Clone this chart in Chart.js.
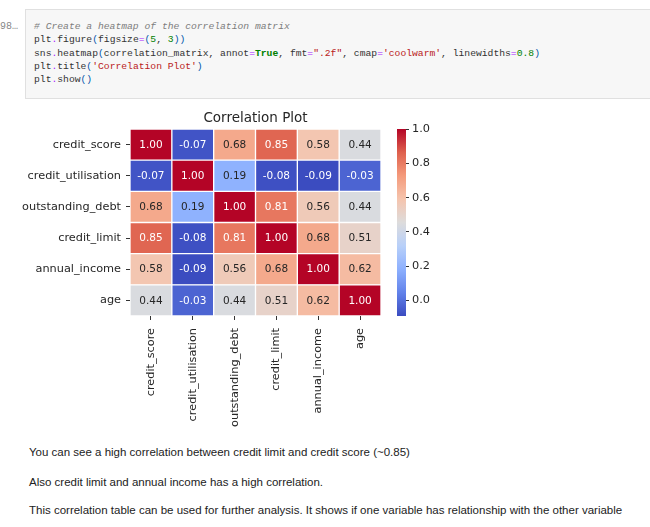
<!DOCTYPE html>
<html>
<head>
<meta charset="utf-8">
<script src="https://cdn.jsdelivr.net/npm/chart.js@4.4.0/dist/chart.umd.min.js"></script>
<style>
    body {
        margin: 0;
        width: 650px;
        height: 527px;
        overflow: hidden;
        background: #fff;
        position: relative;
        font-family: "DejaVu Sans", sans-serif;
    }
    .prompt {
        position: absolute;
        left: 0;
        top: 21px;
        font: 10px "Liberation Mono", monospace;
        color: #888;
    }
    .cell {
        position: absolute;
        left: 25px;
        top: 9px;
        width: 640px;
        height: 88px;
        background: #f7f7f7;
        border: 1px solid #e0e0e0;
    }
    .cell pre {
        position: absolute;
        left: 8px;
        top: 10px;
        margin: 0;
        font: 9.7px/13.3px "Liberation Mono", monospace;
        color: #333;
    }
    .cm { color: #7d7d7d; font-style: italic; }
    .op { color: #aa22ff; }
    .pn { color: #0055aa; }
    .nb { color: #008000; }
    .kw { color: #008000; font-weight: bold; }
    .st { color: #ba2121; }
    .note {
        position: absolute;
        left: 29px;
        font: 11.5px "Liberation Sans", sans-serif;
        color: #222;
        white-space: nowrap;
    }
    #heat { position: absolute; left: 0; top: 100px; }
    #bar { position: absolute; left: 390px; top: 100px; }
</style>
</head>
<body>
<div class="prompt">98…</div>
<div class="cell"><pre><span class="cm"># Create a heatmap of the correlation matrix</span>
plt<span class="op">.</span>figure<span class="pn">(</span>figsize<span class="op">=</span><span class="pn">(</span><span class="nb">5</span>, <span class="nb">3</span><span class="pn">))</span>
sns<span class="op">.</span>heatmap<span class="pn">(</span>correlation_matrix, annot<span class="op">=</span><span class="kw">True</span>, fmt<span class="op">=</span><span class="st">".2f"</span>, cmap<span class="op">=</span><span class="st">'coolwarm'</span>, linewidths<span class="op">=</span><span class="nb">0.8</span><span class="pn">)</span>
plt<span class="op">.</span>title<span class="pn">(</span><span class="st">'Correlation Plot'</span><span class="pn">)</span>
plt<span class="op">.</span>show<span class="pn">()</span></pre></div>

<canvas id="heat" width="390" height="330"></canvas>
<canvas id="bar" width="60" height="330"></canvas>

<div class="note" style="top:446px">You can see a high correlation between credit limit and credit score (~0.85)</div>
<div class="note" style="top:476px">Also credit limit and annual income has a high correlation.</div>
<div class="note" style="top:504px">This correlation table can be used for further analysis. It shows if one variable has relationship with the other variable</div>

<script>
// variables, in the order seaborn lays them out
var variables = ['credit_score', 'credit_utilisation', 'outstanding_debt', 'credit_limit', 'annual_income', 'age'];

// one row of the correlation matrix each
var creditScore = [1.00, -0.07, 0.68, 0.85, 0.58, 0.44];
var creditUtilisation = [-0.07, 1.00, 0.19, -0.08, -0.09, -0.03];
var outstandingDebt = [0.68, 0.19, 1.00, 0.81, 0.56, 0.44];
var creditLimit = [0.85, -0.08, 0.81, 1.00, 0.68, 0.51];
var annualIncome = [0.58, -0.09, 0.56, 0.68, 1.00, 0.62];
var age = [0.44, -0.03, 0.44, 0.51, 0.62, 1.00];

var colorbarTicks = [0.0, 0.2, 0.4, 0.6, 0.8, 1.0];

var matrix = [creditScore, creditUtilisation, outstandingDebt, creditLimit, annualIncome, age];
var vmin = Math.min.apply(null, matrix.map(function (r) { return Math.min.apply(null, r); }));
var vmax = Math.max.apply(null, matrix.map(function (r) { return Math.max.apply(null, r); }));

// coolwarm, sampled every 1/8
var coolwarm = [
    [59, 76, 192], [98, 130, 234], [141, 176, 254], [184, 208, 249],
    [221, 220, 220], [245, 196, 173], [244, 154, 123], [222, 96, 77], [180, 4, 38]
];

function cmapRgb(t) {
    t = Math.max(0, Math.min(1, t));
    var pos = t * (coolwarm.length - 1);
    var i = Math.min(Math.floor(pos), coolwarm.length - 2);
    var f = pos - i;
    var a = coolwarm[i], b = coolwarm[i + 1];
    return [0, 1, 2].map(function (k) { return Math.round(a[k] + (b[k] - a[k]) * f); });
}

function valueColor(v) {
    var c = cmapRgb((v - vmin) / (vmax - vmin));
    return 'rgb(' + c.join(',') + ')';
}

// same rule seaborn uses to pick the annotation colour
function textColor(v) {
    var c = cmapRgb((v - vmin) / (vmax - vmin)).map(function (x) {
        x = x / 255;
        return x <= 0.03928 ? x / 12.92 : Math.pow((x + 0.055) / 1.055, 2.4);
    });
    var lum = 0.2126 * c[0] + 0.7152 * c[1] + 0.0722 * c[2];
    return lum > 0.408 ? '#262626' : '#ffffff';
}

var labelColor = '#262626';
var tickFont = { family: 'DejaVu Sans', size: 11.3 };

// every column of the heatmap is one stacked dataset
var heatDatasets = variables.map(function (name, col) {
    return {
        label: name,
        data: matrix.map(function () { return 1; }),
        values: matrix.map(function (row) { return row[col]; }),
        backgroundColor: matrix.map(function (row) { return valueColor(row[col]); }),
        borderColor: '#ffffff',
        borderWidth: 1,
        borderSkipped: false,
        barPercentage: 1,
        categoryPercentage: 1
    };
});

var annotPlugin = {
    id: 'annot',
    afterDatasetsDraw: function (chart) {
        var ctx = chart.ctx;
        ctx.save();
        ctx.font = '10.5px "DejaVu Sans"';
        ctx.textAlign = 'center';
        ctx.textBaseline = 'middle';
        chart.data.datasets.forEach(function (ds, di) {
            chart.getDatasetMeta(di).data.forEach(function (el, i) {
                var v = ds.values[i];
                var p = el.getCenterPoint();
                ctx.fillStyle = textColor(v);
                ctx.fillText(v.toFixed(2), p.x, p.y + 0.5);
            });
        });
        // title over the heatmap axes
        var a = chart.chartArea;
        ctx.font = '13.5px "DejaVu Sans"';
        ctx.fillStyle = labelColor;
        ctx.textBaseline = 'alphabetic';
        ctx.fillText('Correlation Plot', (a.left + a.right) / 2, a.top - 7);
        ctx.restore();
    }
};

new Chart(document.getElementById('heat').getContext('2d'), {
    type: 'bar',
    data: { labels: variables, datasets: heatDatasets },
    plugins: [annotPlugin],
    options: {
        indexAxis: 'y',
        responsive: false,
        animation: false,
        layout: { padding: { top: 29, right: 9, left: 0, bottom: 0 } },
        plugins: { legend: { display: false }, tooltip: { enabled: false } },
        scales: {
            x: {
                type: 'linear',
                stacked: true,
                min: 0,
                max: variables.length,
                border: { display: false },
                grid: { drawOnChartArea: false, tickLength: 4, color: '#333', tickWidth: 1 },
                afterBuildTicks: function (scale) {
                    scale.ticks = variables.map(function (n, i) { return { value: i + 0.5 }; });
                },
                afterFit: function (scale) { scale.height = 114; },
                ticks: {
                    autoSkip: false,
                    minRotation: 90,
                    maxRotation: 90,
                    padding: 8,
                    color: labelColor,
                    font: tickFont,
                    callback: function (v, i) { return variables[i]; }
                }
            },
            y: {
                stacked: true,
                border: { display: false },
                grid: { drawOnChartArea: false, offset: false, tickLength: 4, color: '#333', tickWidth: 1 },
                afterFit: function (scale) { scale.width = 130; },
                ticks: { padding: 5, color: labelColor, font: tickFont }
            }
        }
    }
});

// colorbar: a single floating bar painted with the colormap
new Chart(document.getElementById('bar').getContext('2d'), {
    type: 'bar',
    data: {
        labels: [''],
        datasets: [{
            data: [[vmin, vmax]],
            borderWidth: 0,
            barPercentage: 1,
            categoryPercentage: 1,
            backgroundColor: function (context) {
                var chart = context.chart;
                if (!chart.chartArea) return null;
                var y = chart.scales.y;
                var g = chart.ctx.createLinearGradient(0, y.getPixelForValue(vmin), 0, y.getPixelForValue(vmax));
                for (var s = 0; s <= 32; s++) {
                    g.addColorStop(s / 32, 'rgb(' + cmapRgb(s / 32).join(',') + ')');
                }
                return g;
            }
        }]
    },
    options: {
        responsive: false,
        animation: false,
        layout: { padding: { top: 29, left: 7, right: 0, bottom: 114 } },
        plugins: { legend: { display: false }, tooltip: { enabled: false } },
        scales: {
            x: { display: false },
            y: {
                position: 'right',
                min: vmin,
                max: vmax,
                border: { display: false },
                grid: { drawOnChartArea: false, tickLength: 3, color: '#333' },
                afterBuildTicks: function (scale) {
                    scale.ticks = colorbarTicks.map(function (v) { return { value: v }; });
                },
                afterFit: function (scale) { scale.width = 44; },
                ticks: {
                    padding: 3,
                    color: labelColor,
                    font: tickFont,
                    callback: function (v) { return v.toFixed(1); }
                }
            }
        }
    }
});
</script>
</body>
</html>
